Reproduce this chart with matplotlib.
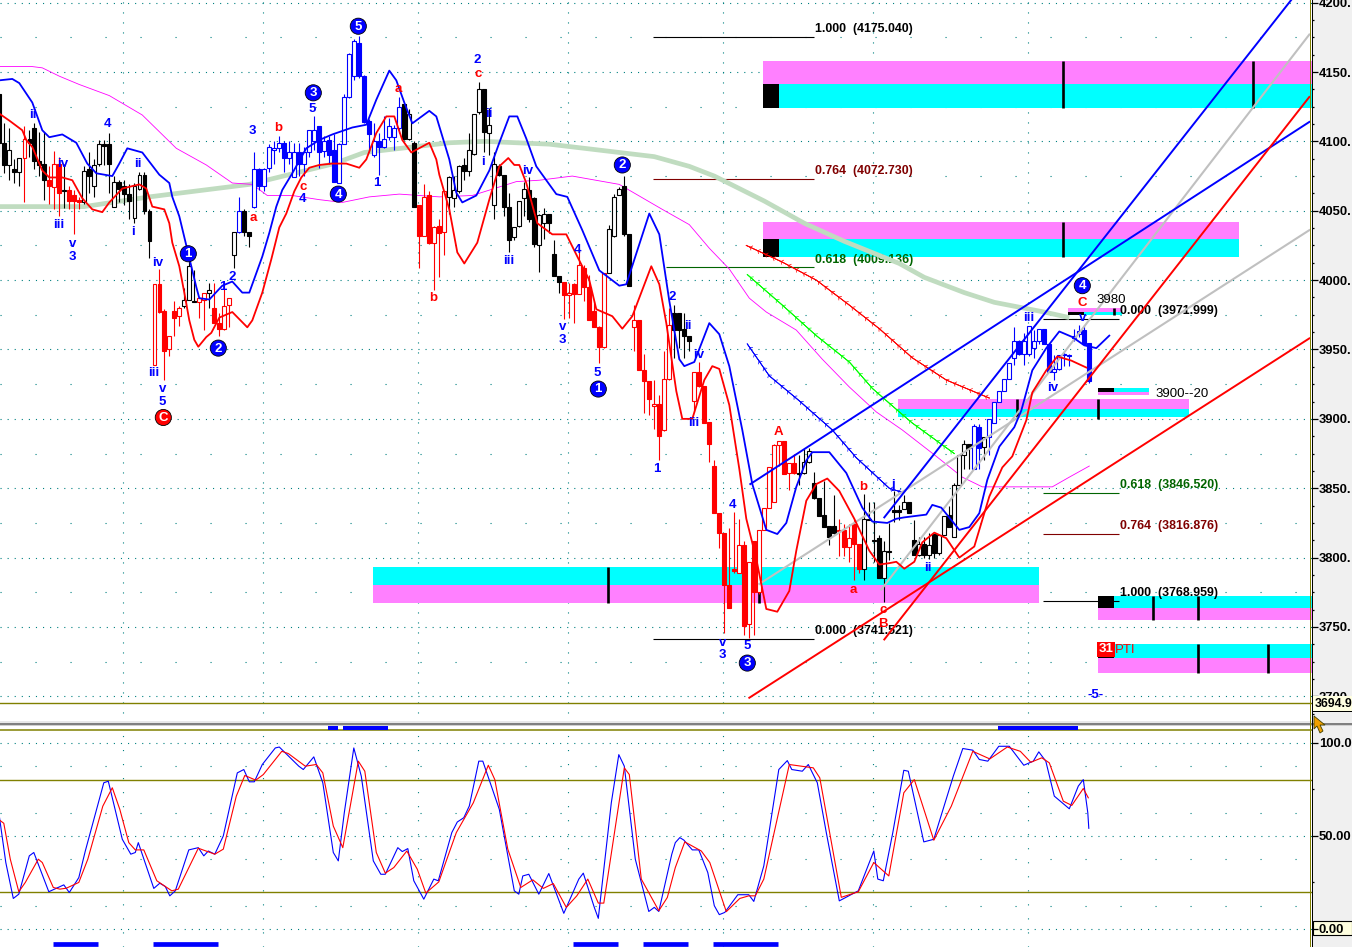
import matplotlib
matplotlib.use('Agg')
import matplotlib.patheffects as pe
import matplotlib.pyplot as plt
from matplotlib.patches import Polygon, Rectangle
from matplotlib.ticker import FixedLocator, FuncFormatter, MultipleLocator

W, H = 1352, 947
plt.rcParams['font.family'] = ['Liberation Sans', 'DejaVu Sans']
plt.rcParams['lines.scale_dashes'] = False

# candles, ten bars per line
opens = [
    4134,4099,4083,4080,4078,4088,4102,4110,4086,4084,
    4072,4067,4084,4064,4065,4061,4058,4056,4080,4068,
    4084,4098,4098,4053,4071,4068,4062,4045,4066,4076,
    4050,3939,3997,3978,3950,3978,3974,3981,3986,3985,
    3984,3986,3991,3980,3969,3965,3982,4018,4035,4050,
    4035,4053,4080,4068,4081,4094,4095,4099,4088,4074,
    4092,4084,4092,4100,4111,4093,4101,4094,4070,4098,
    4132,4147,4171,4147,4115,4090,4100,4096,4103,4103,
    4110,4127,4102,4099,4054,4032,4061,4027,4039,4035,
    4060,4059,4064,4083,4079,4091,4121,4138,4106,4054,
    4082,4076,4053,4031,4039,4059,4065,4059,4025,4041,
    4048,4019,4003,3999,3989,3997,3990,4009,3995,3978,
    3966,3952,4005,4032,4061,4068,4033,3966,3971,3935,
    3927,3909,3911,3892,3929,3976,3976,3965,3960,3913,
    3934,3924,3898,3866,3832,3818,3780,3792,3789,3809,
    3752,3812,3775,3820,3836,3840,3881,3884,3861,3868,
    3861,3861,3869,3854,3843,3831,3823,3823,3819,3820,
    3808,3824,3810,3792,3828,3813,3814,3785,3805,3834,
    3834,3835,3840,3813,3802,3810,3802,3817,3803,3816,
    3831,3815,3852,3874,3882,3864,3894,3880,3887,3897,
    3912,3920,3929,3944,3956,3947,3947,3951,3956,3965,
    3954,3934,3936,3947,3946,3958,3961,3964,3955]
highs = [
    4134,4113,4110,4087,4088,4111,4108,4113,4107,4107,
    4082,4093,4089,4084,4068,4065,4060,4082,4092,4087,
    4101,4101,4106,4075,4072,4072,4069,4070,4078,4078,
    4051,3997,4008,3979,3960,3985,3981,3994,4014,4007,
    3988,3991,3998,3998,3976,3999,3987,4035,4060,4051,
    4035,4092,4081,4081,4098,4100,4104,4100,4100,4099,
    4099,4096,4108,4118,4111,4104,4104,4105,4099,4134,
    4164,4174,4176,4148,4116,4113,4106,4118,4117,4112,
    4132,4127,4123,4100,4054,4069,4064,4039,4044,4064,
    4075,4075,4083,4088,4106,4120,4143,4138,4124,4092,
    4084,4076,4063,4038,4057,4071,4074,4060,4048,4052,
    4048,4029,4003,3999,3998,3998,4023,4011,4004,3985,
    3967,4005,4040,4062,4067,4075,4033,3982,3971,3947,
    3927,3928,3917,3949,3980,3982,3976,3976,3960,3934,
    3941,3924,3898,3870,3832,3818,3821,3833,3828,3812,
    3797,3812,3820,3836,3865,3882,3884,3884,3868,3875,
    3874,3878,3879,3862,3843,3855,3823,3845,3828,3824,
    3824,3828,3810,3846,3840,3840,3816,3812,3825,3848,
    3838,3845,3840,3827,3815,3815,3818,3817,3816,3830,
    3837,3854,3874,3885,3882,3896,3896,3887,3900,3912,
    3920,3929,3940,3966,3957,3962,3967,3964,3965,3965,
    3954,3946,3946,3948,3947,3965,3968,3968,3955]
lows = [
    4089,4077,4072,4070,4068,4056,4089,4080,4075,4058,
    4055,4051,4046,4052,4051,4033,4051,4055,4063,4060,
    4082,4083,4063,4053,4056,4054,4044,4041,4065,4048,
    4016,3939,3976,3928,3945,3960,3967,3980,3986,3984,
    3973,3964,3980,3969,3960,3964,3966,4009,4034,4032,
    4024,4052,4065,4064,4078,4084,4092,4078,4084,4074,
    4075,4075,4089,4094,4081,4089,4084,4071,4070,4098,
    4131,4144,4146,4113,4092,4089,4076,4095,4101,4094,
    4106,4101,4101,4053,4009,4032,4026,3993,4002,4018,
    4048,4053,4063,4072,4075,4090,4120,4092,4090,4044,
    4075,4046,4020,4029,4038,4046,4042,4024,4006,4030,
    4034,4003,3991,3972,3973,3969,3990,3985,3971,3966,
    3940,3951,4005,4031,4061,4032,3996,3949,3935,3904,
    3903,3893,3870,3891,3928,3944,3951,3944,3949,3905,
    3923,3897,3869,3832,3807,3746,3764,3789,3789,3744,
    3742,3744,3774,3820,3836,3840,3866,3860,3849,3860,
    3852,3860,3868,3842,3830,3822,3809,3817,3801,3801,
    3797,3784,3789,3784,3827,3797,3785,3768,3798,3826,
    3827,3835,3832,3802,3801,3800,3799,3800,3802,3816,
    3822,3815,3852,3864,3864,3864,3864,3870,3874,3897,
    3912,3920,3929,3939,3946,3939,3945,3944,3954,3954,
    3934,3928,3935,3938,3938,3956,3959,3953,3926]
closes = [
    4099,4083,4094,4078,4088,4102,4099,4086,4083,4072,
    4068,4084,4063,4065,4057,4057,4056,4079,4075,4083,
    4098,4097,4084,4071,4066,4062,4057,4068,4076,4050,
    4028,3997,3977,3949,3960,3973,3980,3986,4010,3984,
    3987,3991,3993,3969,3965,3981,3987,4035,4050,4035,
    4032,4080,4068,4080,4096,4095,4099,4088,4092,4092,
    4084,4092,4108,4108,4092,4100,4090,4071,4098,4132,
    4163,4172,4147,4114,4105,4100,4096,4102,4111,4110,
    4125,4102,4120,4053,4032,4060,4027,4038,4034,4064,
    4074,4065,4082,4079,4094,4120,4138,4107,4112,4084,
    4076,4053,4029,4038,4057,4066,4044,4026,4047,4048,
    4041,4003,3999,3989,3991,3990,4011,3995,3971,3966,
    3952,4005,4037,4060,4066,4033,3996,3971,3935,3927,
    3914,3911,3888,3929,3968,3964,3964,3960,3956,3934,
    3924,3897,3882,3832,3818,3780,3764,3790,3809,3751,
    3797,3775,3820,3836,3865,3881,3884,3860,3868,3861,
    3860,3869,3877,3843,3830,3822,3815,3818,3820,3808,
    3814,3810,3792,3828,3827,3812,3785,3805,3804,3833,
    3833,3840,3832,3802,3810,3802,3809,3803,3816,3830,
    3822,3852,3874,3882,3879,3895,3879,3887,3900,3912,
    3920,3929,3940,3956,3947,3956,3967,3956,3965,3954,
    3934,3936,3946,3946,3945,3960,3963,3954,3927]
bar_colors = ('kkkkkrkkkk' 'rrrkrrrkkk' 'kkkkkkkkkk' 'krrrrrrkkk' 'rrkrrrrkbk'
              'kbbbbbbbbb' 'bbbbbbbbbb' 'bbbbbbbbbb' 'bkkkrrrrrr' 'kkkkkkkkkk'
              'kkkkkkkkkk' 'kkkrrrrrrr' 'rrkkkkkrrr' 'rrrrrkkkkr' 'rrrrrrrrrr'
              'rrrrrrrrrr' 'kkkkkkkkrr' 'rrrkkkkkkk' 'kkkkkkkkkk' 'kkkkkbbkbb'
              'bbbbbbbbbb' 'bbbbbbbbb')

# overlay curves, bar number then price
ma_bar = [0,17,30,50,67,73,90,97,110,131,138,143,153,161,169,180,185,193,199,209,214]
ma_val = [4053,4053,4060,4069,4084,4092,4099,4100,4098,4089,4082,4075,4057,4041,4028,4012,4002,3991,3984,3977,3973]

blue_bar = [0,2.6,4,6.6,8.6,10,12.6,15.4,17.6,19.4,
            22.6,24,25.6,28.6,32,34,34.6,36,37.4,39.4,
            40,42,44.6,46.6,48.6,50,52.6,54,55.4,56.6,
            58.6,61.4,64,66.6,70.6,73.4,75.4,78,79.4,81,
            82.6,86,87.4,90,91.4,92.6,95.4,98,100,102,
            103.6,105.4,107.4,111.4,113.6,116.6,120,124,125.4,130,
            132,134,136,137,139,142,144,146,148.6,150.6,
            153.4,155.6,157.4,159.4,161.4,162.6,166,169.4,172.6,174.6,
            177.6,179.4,181,185.4,186.6,188.4,192,194,196,197.6,
            200,203,204.4,206.6,209.4,212,214.6,217,219.4,222]
blue_val = [4144,4145,4142,4128,4108,4103,4105,4099,4084,4077,
            4075,4084,4095,4092,4076,4070,4060,4046,4025,3995,
            3987,3986,3996,3999,3991,3991,4017,4034,4053,4065,
            4077,4095,4101,4105,4110,4112,4130,4151,4144,4128,
            4113,4122,4118,4087,4063,4056,4061,4079,4099,4118,
            4118,4102,4082,4062,4060,4036,4007,3996,3997,4048,
            4033,3985,3943,3938,3941,3969,3961,3938,3892,3853,
            3820,3817,3825,3851,3870,3876,3876,3861,3836,3826,
            3825,3828,3829,3831,3838,3836,3820,3822,3832,3856,
            3880,3894,3906,3935,3951,3963,3959,3953,3951,3960]

red_bar = [0,2,4.6,5.4,6.6,8.6,10,12.6,14.6,16.6,
           18.6,20.6,22,24.6,28,29.4,30.6,33,34,34.6,
           36,37,38,39,39.8,41.4,42.4,44,46.6,49.6,
           50.6,52.6,54.4,56,57.4,59,60.4,62,64,66.6,
           69.4,72,73.4,75.4,77.4,79,80.6,82.4,86,87.4,
           88,90,91.6,93,95.6,98,100,101.8,103,104,
           105.4,107.6,110.6,113.4,115.6,118,119.4,122.6,124.6,126.6,
           130.4,132,133.4,135.4,136.6,138.6,141,142.6,144,146,
           148,149.4,151.4,153.4,155.6,158,159.4,161.4,163.4,165.6,
           168,171,174,176,178,179.4,181,183,184.6,187,
           189.4,192,195,198,200.6,202.6,205.4,206.6,209.4,211.6,
           214.4,217.4]
red_val = [4120,4115,4108,4101,4096,4079,4074,4074,4072,4059,
           4051,4049,4056,4066,4069,4066,4053,4051,4041,4027,
           4010,3991,3971,3957,3952,3959,3962,3973,3977,3966,
           3971,3991,4015,4038,4048,4064,4074,4081,4083,4084,
           4084,4081,4087,4106,4118,4118,4101,4092,4099,4087,
           4076,4051,4020,4012,4027,4058,4082,4088,4083,4083,
           4070,4041,4033,4033,4017,4000,3979,3974,3965,3974,
           4010,3997,3969,3920,3900,3900,3928,3938,3936,3910,
           3864,3828,3799,3763,3761,3776,3805,3841,3853,3857,
           3848,3828,3805,3795,3796,3797,3792,3797,3811,3818,
           3814,3800,3808,3844,3865,3873,3899,3919,3935,3945,
           3942,3937]

mag_bar = [0,6.4,8.6,12,16,22,28.6,35.4,41.4,46.6,50.6,53.6,58.6,64,68.6,74,80,88,94.6,103.4,108,114.6,124,132.6,138,142,146,150,153.4,159.4,164.6,170,175.4,180.6,187.4,192.6,196.6,204.6,210.6,214,218]
mag_val = [4154,4154,4153,4147,4141,4133,4119,4095,4083,4070,4069,4061,4061,4058,4056,4060,4062,4060,4061,4071,4072,4075,4069,4051,4040,4023,4008,3987,3977,3964,3943,3923,3905,3892,3873,3858,3851,3851,3851,3858,3866]

hatch_red_bar = [149.4,156.6,163.4,170,176,182.6,189.4,198]
hatch_red_val = [4025,4013,4000,3982,3965,3944,3928,3915]
hatch_green_bar = [149.6,156.6,163.4,170,174.6,180,182.6,191]
hatch_green_val = [4004,3982,3960,3941,3922,3905,3897,3875]
hatch_blue_bar = [149.6,154,160,166.6,171.4,178,180.6]
hatch_blue_val = [3954,3931,3913,3892,3872,3850,3847]

# straight trend lines: bar, price, bar, price
trend_blue = [(150.2, 3853, 262, 4114), (177, 3829, 258.4, 4202)]
trend_gray = [(152, 3781, 262, 4036), (176.4, 3777, 262, 4177)]
trend_red = [(150, 3699, 262, 3958), (177, 3741, 262, 4132)]

# zones: first bar, last bar, top, middle, bottom, upper colour
zone_left = [152.8, 152.8, 179.8, 74.8, 219.8, 219.8, 219.8, 213.8]
zone_right = [262.5, 248, 238, 208, 262.5, 262.5, 230, 224.6]
zone_top = [4158, 4042, 3914, 3793, 3772, 3738, 3922, 3980]
zone_mid = [4141, 4030, 3907, 3780, 3764, 3728, 3919.5, 3977]
zone_bot = [4124, 4017, 3901, 3767, 3755, 3717, 3917, 3975]
zone_upper_is_magenta = [True, True, True, False, False, False, False, True]

tick_bar = [212.8, 250.8, 212.8, 219.8, 203.6, 121.8, 152, 230.8, 239.8, 239.8, 253.8, 223]
tick_top = [4158, 4158, 4042, 3914, 3914, 3793, 3793, 3772, 3772, 3738, 3738, 3980]
tick_bot = [4124, 4124, 4017, 3900, 3901, 3767, 3767, 3755, 3755, 3717, 3717, 3975]

block_bar = [152.8, 152.8, 219.8, 213.8, 219.8]
block_top = [4141, 4030, 3772, 3977, 3922]
block_bot = [4124, 4017, 3764, 3975, 3919.5]
block_w = [3.2, 3.2, 3.2, 3.2, 3.2]

# fibonacci levels
fib_left = [130.8, 130.8, 133.4, 130.8, 208.8, 208.8, 208.8, 208.8]
fib_right = [163, 163, 163, 163, 224, 224, 224, 224]
fib_price = [4175.040, 4072.730, 4009.136, 3741.521, 3971.999, 3846.520, 3816.876, 3768.959]
fib_ratio = ['1.000', '0.764', '0.618', '0.000', '0.000', '0.618', '0.764', '1.000']
fib_color = ['black', '#800000', '#006400', 'black', 'black', '#006400', '#800000', 'black']

# wave labels
label_text = ['ii','iv','iii','v','3','4','ii','i','iv','iii','v','5','1','2','3','b','a','5','c','4','a','1','b','2','c','ii','i','iv','iii','4','v','3','5','2','ii','iv','iii','1','4','v','3','5','A','b','a','j','ii','c','B','iii','iv','v','C','3980','3900--20','-5-']
label_bar = [6.8,12.6,11.8,14.6,14.6,21.6,27.8,26.8,31.6,30.8,32.6,32.6,44.8,46.6,50.6,55.8,50.8,62.6,60.8,60.6,79.8,75.6,86.8,95.6,95.8,98,96.8,105.6,101.8,115.6,112.6,112.6,119.6,134.6,137.8,139.8,138.8,131.6,146.6,144.6,144.6,149.6,155.8,172.8,170.8,178.8,185.8,176.8,176.8,205.8,210.6,216.6,216.6,222.4,236.6,219.2]
label_price = [4119,4084,4040,4026,4017,4112.5,4084,4035,4012,3933,3921.5,3912.5,3995,4002,4107.5,4110,4045,4123,4067,4058.5,4138,4070,3987,4158.6,4148.6,4120,4085,4079,4014,4022,3966,3957,3933,3988,3967,3946,3897,3864,3838,3738.5,3730,3736,3890.5,3851,3777,3852,3792.5,3762,3752,3973,3922,3973,3983.5,3985.7,3918,3701]
label_color = 'bbbbbbbbbbbbbbb' 'rr' 'brbrbrbr' 'bbbbbbbbbbbbbbbbb' 'rrr' 'bb' 'rr' 'bbb' 'r' 'kk' 'b'

circle_text = ['C','1','2','3','4','5','2','1','3','4']
circle_bar = [32.8,37.8,43.8,62.8,67.8,71.8,124.6,119.8,149.6,216.6]
circle_price = [3901,4019,3951,4135,4062,4183,4083,3921.5,3724,3996]
circle_color = ['#ff0000'] + ['#0000ff'] * 9

# stochastic
stoch_fast_bar = [0,1.3,2.8,3.9,6,6.9,9.9,12.9,14,15.9,17.2,20.9,21.8,24.6,26.3,27.2,27.8,30.9,32.1,33.2,34.1,35.2,37.9,39.8,40.9,41.8,43.1,44.8,47.6,48.9,50,51,52.6,55.2,56,59.9,60.8,62.9,64.7,66.8,67.8,69,70.9,72.4,74.8,76.3,77.2,79.7,80.6,81.7,82.9,84.9,86.9,87.8,90.5,91.6,92.9,94,95.9,96.7,100,103,103.9,104.7,105.9,107.9,109.9,112.9,115.9,116.8,119,119.8,122.4,123.9,125,127.2,129.9,131,131.9,134.5,135.2,136.1,136.9,138.6,139.9,141.7,143,144,145.1,147.7,149.9,150.9,152.9,155.9,157.6,158.5,160.6,161.8,163.6,165.4,168,171.8,174.9,175.7,176.8,178.7,180.9,181.8,184.9,186.9,190.8,192.7,194.7,196,197.7,199.9,202,204.9,206.8,207.9,209.3,211,214,215.8,216.8,217.7,217.9]
stoch_fast_val = [60.7,35.7,16.4,18.7,39.3,41.1,20,23.7,19.6,27.6,41.9,78.6,79.4,48.2,40.2,41.1,46.4,21.8,24.6,22.8,17.8,20.5,42.5,43.7,39.3,41.9,40.2,50,83.9,85.7,79.1,79.1,88.4,97.3,97.8,87.5,85.7,92.5,78.6,41.1,36.6,62.5,97.3,82.1,36.6,29.4,29.4,43.7,41.6,43.2,25.9,16,26.8,25.9,51.8,57.5,59.8,66.1,90.2,90.2,64.3,20.5,18.7,28.5,29.4,18.7,29.8,8.4,26.8,30,11.6,5.7,67.8,93.7,87.5,37.5,9.4,11.6,9.4,40.2,46.4,49.1,47.8,42.5,42.5,30.3,12.5,7.7,8.9,18.4,18.4,14.8,33.9,85.7,90.5,85.7,84.8,88.4,78.6,51.8,15.1,20.5,41.9,26.8,25.9,51.8,85.3,84.8,46.8,48.2,82.1,97,96.1,91.1,90.2,98.2,98.2,88,90.2,95.2,90.2,71.4,64.6,76.8,80.3,62.5,54.1]
stoch_slow_bar = [0,.9,2.2,3.9,5.2,7.8,8.6,10.8,12.1,13.4,15.9,17.7,20.7,22.6,24.1,25.9,27.2,28.9,31.5,34.5,35.8,38.4,39.8,43.1,44.8,47.4,49.1,51.3,52.8,56.5,57.8,61.2,63.4,64.7,66.8,68.7,71.8,73.1,75.4,77.2,78.9,81.5,83.6,85.3,87.9,91.4,94.8,97.8,99.1,101.7,104.3,106.7,108.8,110.8,113.4,115.5,117.7,119.8,120.9,125,126,128.4,131.9,133.6,135.2,137.1,140.4,142.1,145.4,148.1,149.9,151.2,152.9,158,162.8,164.1,168.4,171.8,174.9,177.9,180.9,183,186.9,190.4,194.7,198.1,201.6,204.2,206.3,208.5,210,212.8,214.5,216.8,217.8]
stoch_slow_val = [58.6,56.8,37.5,20,25,37.5,35.7,22.3,21.4,21.9,25,37.5,66,75.9,64.3,46.4,42.5,42.5,25.9,20.5,21.4,35.7,43.4,40.2,42.9,71.4,82.5,80,83,95.5,94.3,87.5,88.4,83.9,55.3,43.7,90.2,84.8,41.1,30,33,41.9,32.1,19.3,25.3,51.8,67.8,88,80.3,42.9,22.3,26.4,21.8,24.4,11.6,17.8,26.8,13.9,13.9,86.6,83,26.8,9.8,16.9,33,46.8,41.9,35.7,9.3,16.4,17.8,17.8,26.8,88.4,86.6,81.2,17,20,35.7,28.5,73.2,80.3,47.7,66,95.5,91.4,97.8,95.5,89.6,92,89.3,68.7,66.4,75.5,70.5]

stoch_top_starts = [65.8, 68.8, 199.8]
stoch_top_ends = [67.8, 77.8, 215.8]
stoch_bottom_starts = [10.8, 30.8, 114.8, 128.8, 142.8]
stoch_bottom_ends = [19.8, 43.8, 123.8, 137.8, 155.8]

price_ticks = [4200, 4150, 4100, 4050, 4000, 3950, 3900, 3850, 3800, 3750, 3700]
stoch_ticks = [100, 50, 0]
grid_x = [24.8, 52.8, 83.8, 113.8, 144.8, 174.8, 205.8]
last_price = 3694.9

x_lo, x_hi = 0.14, 262.54
top_price, bottom_price = 4201.9, 3680.8
top_stoch, bottom_stoch = 109.1, -9.7


def fig_rect(x0, y0, x1, y1, **kw):
    # rectangle given in screen pixels, y down
    fig.add_artist(Rectangle((x0 / W, 1 - y1 / H), (x1 - x0) / W, (y1 - y0) / H,
                             transform=fig.transFigure, **kw))


fig = plt.figure(figsize=(W / 100, H / 100), dpi=100, facecolor='#f0f0f0')
ax = fig.add_axes([0, 1 - 723 / H, 1312 / W, 723 / H])
ax2 = fig.add_axes([0, 0, 1312 / W, (H - 726) / H])

teal = '#008080'
olive = '#808000'
cmap = {'k': 'black', 'r': '#ff0000', 'b': '#0000ff'}

for a, ylim in ((ax, (bottom_price, top_price)), (ax2, (bottom_stoch, top_stoch))):
    a.set_xlim(x_lo, x_hi)
    a.set_ylim(*ylim)
    a.set_facecolor('white')
    a.set_xticks([])
    a.yaxis.tick_right()
    for s in a.spines.values():
        s.set_visible(False)

# grid
for p in price_ticks:
    ax.axhline(p, color=teal, lw=0.8, ls=(0, (0.8, 4.3)), zorder=1)
    ax.axhline(p - 25, color=teal, lw=0.8, ls=(0, (0.8, 24.4)), zorder=1)
for v in (100, 50, 0):
    ax2.axhline(v, color=teal, lw=0.8, ls=(0, (0.8, 4.3)), zorder=1)
for v in (87.5, 62.5, 37.5, 12.5):
    ax2.axhline(v, color=teal, lw=0.8, ls=(0, (0.8, 24.4)), zorder=1)
for gx in grid_x:
    ax.axvline(gx, color=teal, lw=0.8, ls=(0, (0.8, 6.4)), zorder=1)
    ax2.axvline(gx, color=teal, lw=0.8, ls=(0, (0.8, 9.3)), zorder=1)

# zones
for x0, x1, t, m, b, mag in zip(zone_left, zone_right, zone_top, zone_mid, zone_bot, zone_upper_is_magenta):
    upper, lower = ('#ff80ff', '#00ffff') if mag else ('#00ffff', '#ff80ff')
    ax.fill_between([x0, x1], m, t, color=upper, lw=0, zorder=2)
    ax.fill_between([x0, x1], b, m, color=lower, lw=0, zorder=2)
ax.vlines(tick_bar, tick_bot, tick_top, color='black', lw=1.9, zorder=3)
for x0, t, b, w in zip(block_bar, block_top, block_bot, block_w):
    ax.fill_between([x0, x0 + w], b, t, color='black', lw=0, zorder=3)

# red 31 tag
ax.fill_between([219.8, 223], 3728, 3731.5, color='black', lw=0, zorder=3)
ax.text(221.3, 3734, '31', color='white', fontsize=9.5, fontweight='bold', ha='center', va='center', zorder=8,
        bbox=dict(boxstyle='square,pad=0.1', fc='#ff0000', ec='none'))
ax.text(223.2, 3733.5, 'PTI', color='#ff0000', fontsize=9.5, ha='left', va='center', zorder=8)

# fib levels
for x0, x1, p, r, c in zip(fib_left, fib_right, fib_price, fib_ratio, fib_color):
    ax.hlines(p, x0, x1, color=c, lw=0.8, zorder=3)
    ax.text(x1 + 0.2, p + 5.6, f'{r}  ({p:.3f})', color=c, fontsize=8.9, fontweight='bold',
            ha='left', va='center', zorder=3.5)

ax.plot(ma_bar, ma_val, color='#c0dcc0', lw=3.4, zorder=4, solid_capstyle='butt')
ax.plot(mag_bar, mag_val, color='#ff00ff', lw=0.6, zorder=5)

for bars, vals, c in ((hatch_red_bar, hatch_red_val, '#ff0000'),
                      (hatch_green_bar, hatch_green_val, '#00ff00'),
                      (hatch_blue_bar, hatch_blue_val, '#0000ff')):
    ax.plot(bars, vals, color=c, lw=0.6, zorder=5, path_effects=[
        pe.withTickedStroke(angle=50, spacing=6, length=0.35, linewidth=0.5),
        pe.withTickedStroke(angle=-50, spacing=6, length=0.35, linewidth=0.5), pe.Normal()])

# candles
for i, (o, h, l, c, col) in enumerate(zip(opens, highs, lows, closes, bar_colors)):
    color = cmap[col]
    ax.vlines(i, l, h, color=color, lw=0.8, zorder=6)
    hollow = c >= o
    ax.bar(i, max(abs(c - o), 0.7), bottom=min(o, c), width=0.72,
           facecolor='white' if hollow else color, edgecolor=color, lw=0.8, zorder=6)

# trend lines
for segs, c, lw in ((trend_gray, '#c0c0c0', 1.5), (trend_blue, '#0000ff', 1.4), (trend_red, '#ff0000', 1.4)):
    for x0, y0, x1, y1 in segs:
        ax.plot([x0, x1], [y0, y1], color=c, lw=lw, zorder=7)

ax.plot(blue_bar, blue_val, color='#0000ff', lw=1.3, zorder=7)
ax.plot(red_bar, red_val, color='#ff0000', lw=1.3, zorder=7)

# labels
for t, x, y, c in zip(label_text, label_bar, label_price, label_color):
    ax.text(x, y, t, color=cmap[c], fontsize=9.5, fontweight='bold' if c != 'k' else 'normal',
            ha='center', va='center', zorder=9)
ax.scatter(circle_bar, circle_price, s=135, c=circle_color, edgecolors='black', linewidths=0.6, zorder=9)
for t, x, y in zip(circle_text, circle_bar, circle_price):
    ax.text(x, y - 0.3, t, color='white', fontsize=9.5, fontweight='bold', ha='center', va='center', zorder=10)

ax.axhline(last_price, color=olive, lw=1, zorder=3)

# stochastic panel
ax2.axhline(107, color=olive, lw=1.1, zorder=2)
ax2.axhline(80, color=olive, lw=1, zorder=2)
ax2.axhline(20, color=olive, lw=1, zorder=2)
ax2.plot(stoch_fast_bar, stoch_fast_val, color='#0000ff', lw=0.8, zorder=4)
ax2.plot(stoch_slow_bar, stoch_slow_val, color='#ff0000', lw=0.8, zorder=5)
ax2.hlines([108] * 3, stoch_top_starts, stoch_top_ends, color='#0000ff', lw=2.9, zorder=3)
ax2.hlines([-8.3] * 5, stoch_bottom_starts, stoch_bottom_ends, color='#0000ff', lw=3.4, zorder=3)

# right hand scales
ax.yaxis.set_major_locator(FixedLocator(price_ticks))
ax.yaxis.set_minor_locator(MultipleLocator(12.5))
ax.yaxis.set_major_formatter(FuncFormatter(lambda v, _: f'{v:.0f}.'))
ax2.yaxis.set_major_locator(FixedLocator(stoch_ticks))
ax2.yaxis.set_minor_locator(MultipleLocator(25))
ax2.yaxis.set_major_formatter(FuncFormatter(lambda v, _: {100: '100.0', 50: '50.00', 0: '0.00'}[int(v)]))
for a in (ax, ax2):
    a.tick_params(axis='y', which='major', length=4.5, width=0.9, pad=0.3, labelsize=9.4, color='black')
    a.tick_params(axis='y', which='minor', length=1.5, width=0.9)
    for lab in a.get_yticklabels():
        lab.set_fontweight('bold')

# pane furniture
fig_rect(0, 721, 1312, 723, fc='#e8e8e8', ec='none')
fig_rect(0, 723, 1352, 725, fc='#808080', ec='none')
fig_rect(0, 725, 1352, 726, fc='#d0d0d0', ec='none')
fig_rect(1310, 0, 1311, 947, fc=olive, ec='none')
fig_rect(1311.5, 0, 1313, 947, fc='black', ec='none')
fig_rect(1313, 696, 1352, 711, fc='#ffffe0', ec='none')
fig_rect(1313, 711, 1352, 712, fc='black', ec='none')
fig_rect(1313, 921, 1352, 935, fc='#ffffe0', ec='black', lw=0.8, zorder=-1)
fig.text(1315 / W, 1 - 704 / H, f'{last_price}', fontsize=8.8, fontweight='bold', va='center', ha='left')
fig.add_artist(Polygon([(1314 / W, 1 - 716 / H), (1314 / W, 1 - 729 / H), (1317 / W, 1 - 726 / H),
                        (1320 / W, 1 - 733 / H), (1323 / W, 1 - 731 / H), (1320 / W, 1 - 725 / H),
                        (1325 / W, 1 - 725 / H)], closed=True, fc='#f0a000', ec='#404000', lw=0.6,
                       transform=fig.transFigure, zorder=20))

fig.savefig('out.png', dpi=100, facecolor=fig.get_facecolor())
